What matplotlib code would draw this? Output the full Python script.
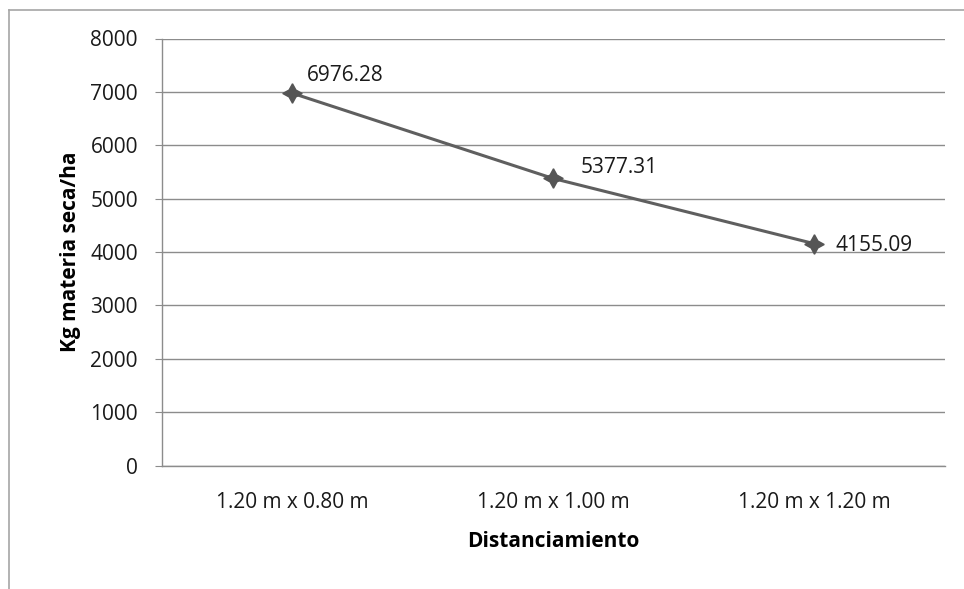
#!/usr/bin/env python3
import matplotlib.pyplot as plt
from matplotlib.lines import Line2D

categories = ["1.20 m x 0.80 m", "1.20 m x 1.00 m", "1.20 m x 1.20 m"]
values = [6976.28, 5377.31, 4155.09]
y_ticks = [0, 1000, 2000, 3000, 4000, 5000, 6000, 7000, 8000]

W, H = 964, 589
fig = plt.figure(figsize=(W / 100, H / 100), dpi=100)
plt.rcParams['font.family'] = ['Open Sans', 'DejaVu Sans']

# plot area in pixel coordinates
left, right, top, bottom = 161.5, 945, 38.5, 465.5
ax = fig.add_axes([left / W, 1 - bottom / H, (right - left) / W, (bottom - top) / H])

# chart border (cropped: only left and top visible)
fig.add_artist(Line2D([8.5 / W, 8.5 / W], [1 - 9.5 / H, 0], color='#a6a6a6', lw=1.2,
                      transform=fig.transFigure))
fig.add_artist(Line2D([8.5 / W, 1], [1 - 9.5 / H, 1 - 9.5 / H], color='#a6a6a6', lw=1.2,
                      transform=fig.transFigure))

x = list(range(len(categories)))
ax.plot(x, values, color='#5f5f5f', lw=2.2, zorder=3)
ax.plot(x, values, linestyle='none', marker=(4, 1, 0), markersize=14,
        color='#555555', zorder=4)

offsets = [(15, 18), (27, 11), (21, -2)]
for xi, v, off in zip(x, values, offsets):
    ax.annotate(f"{v:.2f}", (xi, v), xytext=off, textcoords='offset pixels',
                ha='left', va='center', fontsize=15, color='#1a1a1a')

ax.set_xlim(-0.5, 2.5)
ax.set_ylim(0, 8000)
ax.set_yticks(y_ticks)
ax.set_xticks(x)
ax.set_xticklabels(categories)
ax.grid(axis='y', color='#8c8c8c', lw=1.0)
ax.set_axisbelow(True)
for s in ['top', 'right']:
    ax.spines[s].set_visible(False)
for s in ['left', 'bottom']:
    ax.spines[s].set_color('#8c8c8c')
    ax.spines[s].set_linewidth(1.0)
ax.tick_params(axis='y', length=5, color='#8c8c8c', labelsize=15, pad=12, labelcolor='#1a1a1a')
ax.tick_params(axis='x', length=0, labelsize=15, pad=19, labelcolor='#1a1a1a')

ax.set_xlabel("Distanciamiento", fontsize=15, fontweight='bold', labelpad=13)
ax.set_ylabel("Kg materia seca/ha", fontsize=15, fontweight='bold', labelpad=7)

fig.savefig("out.png", dpi=100)
